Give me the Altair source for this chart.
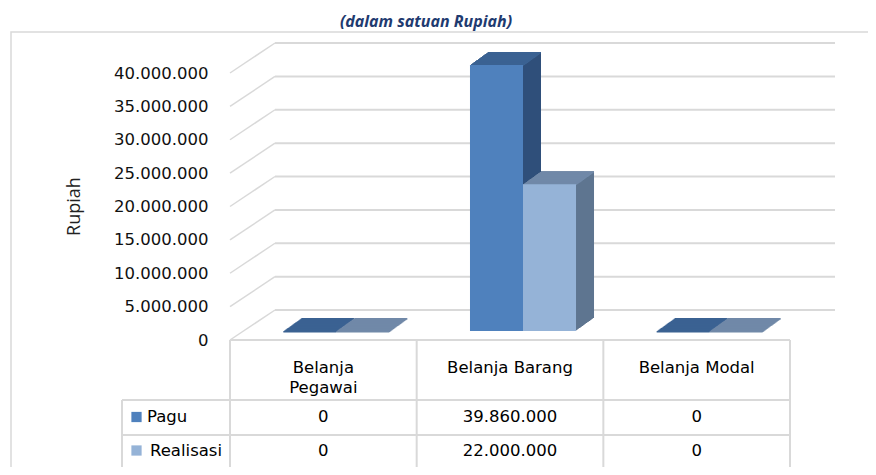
import altair as alt
import pandas as pd

# ---------------- data ----------------
categories = ["Belanja Pegawai", "Belanja Barang", "Belanja Modal"]
header_labels = ["Belanja\nPegawai", "Belanja Barang", "Belanja Modal"]
series_names = ["Pagu", "Realisasi"]
pagu_values = [0, 39860000, 0]
realisasi_values = [0, 22000000, 0]
tick_values = [0, 5000000, 10000000, 15000000, 20000000,
               25000000, 30000000, 35000000, 40000000]
y_title = "Rupiah"
chart_title = "(dalam satuan Rupiah)"


def fmt(v):
    return f"{v:,}".replace(",", ".")


rows = []
for c, p, r in zip(categories, pagu_values, realisasi_values):
    rows.append({"cat": c, "series": series_names[0], "value": p, "label": fmt(p)})
    rows.append({"cat": c, "series": series_names[1], "value": r, "label": fmt(r)})
df = pd.DataFrame(rows)
ticks_df = pd.DataFrame({"t": tick_values})
head_df = pd.DataFrame({"cat": categories, "head": header_labels})
legend_df = pd.DataFrame({"series": series_names})
one = pd.DataFrame({"a": [0]})

# ---------------- style ----------------
W, H = 560, 267
FRONT = {"Pagu": "#4f81bd", "Realisasi": "#95b3d7"}
SIDE = {"Pagu": "#2f4f7a", "Realisasi": "#5f7690"}
TOP = {"Pagu": "#3b6292", "Realisasi": "#7189a8"}
GRID = "#d9d9d9"
FONT = "DejaVu Sans"
FS = 16.5
BX, BY = 13, -9       # bar plane offset from front plane
D, S = 18, 0.72       # bar depth (px) and slope
WX, WY = 45, -30      # back wall offset
PAD_IN = 0.432
STEP = W / len(categories)
BW = STEP * (1 - PAD_IN) / 2          # width of one series bar
SER_OFF = {"Pagu": -BW / 2, "Realisasi": BW / 2}

xscale = alt.Scale(domain=categories, paddingInner=PAD_IN, paddingOuter=PAD_IN / 2)
yscale = alt.Scale(domain=[0, 40000000], nice=False, zero=True)
X = alt.X("cat:N", scale=xscale, axis=None)

AXIS = alt.Axis(
    values=tick_values,
    labelExpr="replace(format(datum.value, ','), regexp(',', 'g'), '.')",
    ticks=False, domain=False, grid=False, labelOverlap=False,
    labelPadding=22, labelFont=FONT, labelFontSize=FS, labelColor="#111111",
    title=y_title, titleFont="Open Sans", titleFontSize=18, titleFontWeight="normal",
    titleColor="#222222", titleX=-156, titleY=133, titleAlign="center",
    titleBaseline="middle",
)
Y = alt.Y("value:Q", scale=yscale, axis=AXIS)
YT = alt.Y("t:Q", scale=yscale, axis=AXIS)

layers = []

# outer frame
layers.append(
    alt.Chart(one).mark_rect(filled=False, stroke=GRID, strokeWidth=1.5).encode(
        x=alt.value(-219), x2=alt.value(660), y=alt.value(-41), y2=alt.value(420)
    )
)

# back wall gridlines + left wall diagonals
layers.append(
    alt.Chart(ticks_df).mark_rule(color=GRID, strokeWidth=1.5, y2Offset=WY).encode(
        y=YT, y2="t:Q", x=alt.value(0), x2=alt.value(WX),
    )
)
layers.append(
    alt.Chart(ticks_df).mark_rule(color=GRID, strokeWidth=2, yOffset=WY).encode(
        y=YT, x=alt.value(WX), x2=alt.value(W + WX),
    )
)

# 3D bars, one series at a time
for s in series_names:
    base = alt.Chart(df).transform_filter(alt.datum.series == s)
    off = SER_OFF[s] + BX
    # side extrusion
    for k in range(D, 0, -1):
        layers.append(
            base.mark_bar(width=BW, xOffset=off + k, yOffset=BY - S * k, y2Offset=BY - S * k,
                          strokeWidth=0, fill=SIDE[s]).encode(
                x=X, y=Y, y2=alt.Y2(datum=0)
            )
        )
    # top face
    for k in range(D, -1, -1):
        layers.append(
            base.mark_bar(width=BW, xOffset=off + k, yOffset=BY - S * k,
                          y2Offset=BY - S * k + 1.6, strokeWidth=0, fill=TOP[s]).encode(
                x=X, y=Y, y2="value:Q"
            )
        )

# front faces (drawn last so they overlap the neighbours' side faces)
for s in series_names:
    layers.append(
        alt.Chart(df).transform_filter(alt.datum.series == s).mark_bar(
            width=BW, xOffset=SER_OFF[s] + BX, yOffset=BY, y2Offset=BY,
            strokeWidth=0, fill=FRONT[s]).encode(
            x=X, y=Y, y2=alt.Y2(datum=0)
        )
    )


# data table lines
def hline(y, x0, x1):
    return alt.Chart(one).mark_rule(color=GRID, strokeWidth=2).encode(
        x=alt.value(x0), x2=alt.value(x1), y=alt.value(y))


def vline(x, y0, y1):
    return alt.Chart(one).mark_rule(color=GRID, strokeWidth=2).encode(
        x=alt.value(x), y=alt.value(y0), y2=alt.value(y1))


R1, R2, R3 = 327, 362, 395
layers.append(hline(H, 0, W))
for yy in (R1, R2, R3):
    layers.append(hline(yy, -108, W))
layers.append(vline(-108, R1, R3))
for i in range(4):
    layers.append(vline(STEP * i, H, R3))

# header text
layers.append(
    alt.Chart(head_df).mark_text(font=FONT, fontSize=FS, lineBreak="\n", lineHeight=20,
                                 baseline="alphabetic", color="#000000").encode(
        x=X, y=alt.value(300), text="head:N"
    )
)
# values and legend keys
for s, yy in zip(series_names, (344, 377.5)):
    layers.append(
        alt.Chart(df).transform_filter(alt.datum.series == s).mark_text(
            font=FONT, fontSize=FS, baseline="middle", color="#000000").encode(
            x=X, y=alt.value(yy), text="label:N"
        )
    )
    layers.append(
        alt.Chart(legend_df).transform_filter(alt.datum.series == s).mark_square(
            size=105, opacity=1, fill=FRONT[s]).encode(
            x=alt.value(-93.5), y=alt.value(yy)
        )
    )
    layers.append(
        alt.Chart(legend_df).transform_filter(alt.datum.series == s).mark_text(
            font=FONT, fontSize=FS, baseline="middle", align="left", color="#000000").encode(
            x=alt.value(-83 if s == "Pagu" else -80), y=alt.value(yy), text="series:N"
        )
    )

# title
layers.append(
    alt.Chart(one).mark_text(text=chart_title, font="Open Sans", fontSize=16, fontWeight="bold",
                             fontStyle="italic", color="#1f3b70", baseline="alphabetic").encode(
        x=alt.value(196), y=alt.value(-46)
    )
)

chart = alt.layer(*layers).properties(
    width=W, height=H,
    autosize=alt.AutoSizeParams(type="none"),
    padding={"left": 222, "top": 65, "right": 78, "bottom": 127},
    background="white",
).configure_view(stroke=None)

chart.save("out.html", embed_options={"renderer": "svg", "actions": False})
